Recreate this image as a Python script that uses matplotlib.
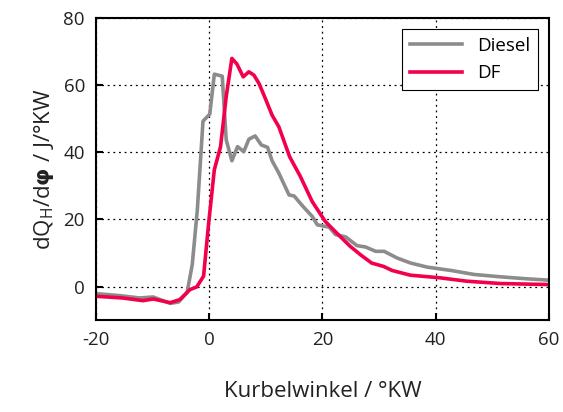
import numpy as np
import matplotlib.pyplot as plt

plt.rcParams['font.family'] = ['Open Sans', 'DejaVu Sans']
plt.rcParams['axes.unicode_minus'] = False
plt.rcParams['mathtext.fontset'] = 'custom'
plt.rcParams['mathtext.rm'] = 'Open Sans'
plt.rcParams['mathtext.bf'] = 'DejaVu Sans:bold'

# --- data ---
diesel_x = [-20.0, -15.8, -12.3, -9.9, -6.9, -5.4, -3.9, -3.0, -2.1, -1.1, 0.1, 0.9, 2.3,
            3.0, 4.0, 5.0, 6.1, 7.0, 8.1, 9.2, 10.3, 11.1, 12.3, 14.1, 15.0, 16.5, 18.2,
            19.1, 21.2, 22.3, 24.1, 26.1, 27.6, 29.4, 30.9, 33.2, 35.6, 38.5, 42.7, 46.8,
            51.5, 56.2, 60.0]
diesel_y = [-2.1, -2.7, -3.4, -3.1, -5.0, -4.6, -1.7, 6.5, 22.9, 49.3, 51.4, 63.3, 62.7,
            43.7, 37.5, 41.7, 40.2, 43.9, 44.9, 42.2, 41.5, 37.5, 33.8, 27.3, 27.0, 24.0, 20.9,
            18.4, 17.7, 15.5, 14.8, 12.2, 11.8, 10.5, 10.5, 8.5, 7.0, 5.8, 4.8, 3.6,
            2.9, 2.3, 1.9]

df_x = [-20.0, -15.3, -11.7, -9.9, -6.9, -5.2, -3.4, -2.2, -1.0, -0.1, 0.9, 2.0, 3.0,
        4.0, 4.9, 6.0, 7.0, 7.9, 8.8, 9.9, 11.1, 12.3, 14.2, 16.1, 18.2, 20.5, 23.2,
        24.9, 26.7, 28.7, 30.8, 32.3, 35.5, 40.8, 45.5, 51.5, 60.0]
df_y = [-2.9, -3.4, -4.2, -3.7, -4.8, -3.9, -0.9, -0.1, 3.1, 18.9, 34.8, 41.7, 56.6,
        68.0, 66.3, 62.5, 64.0, 63.0, 60.5, 56.1, 51.1, 47.6, 38.7, 32.8, 25.3, 19.4, 14.8,
        12.0, 9.5, 7.0, 6.0, 4.8, 3.4, 2.6, 1.6, 0.9, 0.6]

x_ticks = [-20, 0, 20, 40, 60]
y_ticks = [0, 20, 40, 60, 80]

fig = plt.figure(figsize=(5.63, 4.12), dpi=100)
ax = fig.add_axes([0.1705, 0.223, 0.8045, 0.733])

ax.plot(diesel_x, diesel_y, color='#8c8c8c', lw=2.6, label='Diesel')
ax.plot(df_x, df_y, color='#f2004b', lw=2.6, label='DF')

ax.set_xlim(-20, 60)
ax.set_ylim(-10, 80)
ax.set_xticks(x_ticks)
ax.set_yticks(y_ticks)
ax.grid(True, color='black', linestyle=(0, (1.5, 3)), linewidth=0.9)
ax.tick_params(direction='in', length=5, width=1.5, labelsize=13.5, labelcolor='#222222', pad=8)
for s in ax.spines.values():
    s.set_linewidth(1.5)

ax.set_xlabel('Kurbelwinkel / °KW', fontsize=16, color='#222222', labelpad=23)
ax.set_ylabel(r'dQ$_\mathrm{H}$/d$\mathbf{\varphi}$ / J/°KW', fontsize=16, color='#222222', labelpad=5)

leg = ax.legend(loc='upper right', fontsize=13.5, fancybox=False, framealpha=1,
                edgecolor='black', handlelength=2.8, borderaxespad=0.6)
leg.get_frame().set_linewidth(0.8)

fig.savefig('out.png', dpi=100)
